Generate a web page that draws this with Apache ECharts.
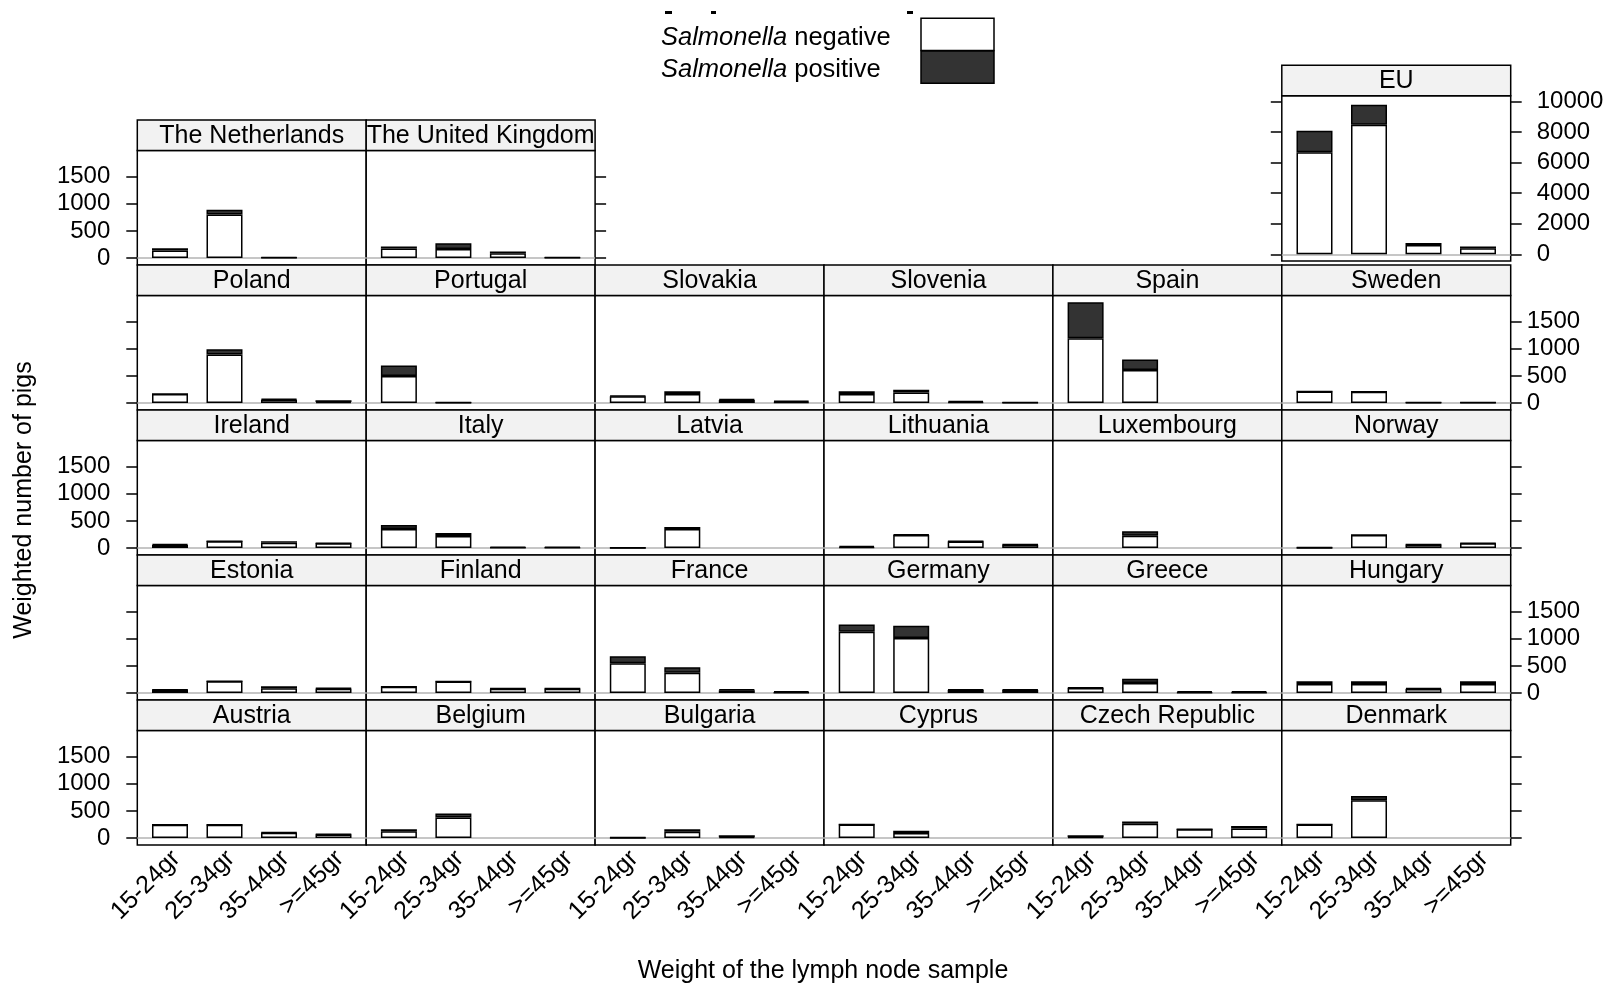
<!DOCTYPE html>
<html>
<head>
<meta charset="utf-8">
<title>Salmonella status by lymph node weight</title>
<script src="https://cdn.jsdelivr.net/npm/echarts@6/dist/echarts.min.js"></script>
<style>
  html, body { margin: 0; padding: 0; background: #fff; }
  #chart { width: 1612px; height: 987px; }
</style>
</head>
<body>
<div id="chart"></div>
<script>
// weight classes of the lymph node sample (x categories)
const weightClasses = ['15-24gr', '25-34gr', '35-44gr', '>=45gr']

// panels in lattice order: bottom-left first, row by row upwards
const countries = [
  'Austria', 'Belgium', 'Bulgaria', 'Cyprus', 'Czech Republic', 'Denmark',
  'Estonia', 'Finland', 'France', 'Germany', 'Greece', 'Hungary',
  'Ireland', 'Italy', 'Latvia', 'Lithuania', 'Luxembourg', 'Norway',
  'Poland', 'Portugal', 'Slovakia', 'Slovenia', 'Spain', 'Sweden',
  'The Netherlands', 'The United Kingdom'
]

// weighted number of Salmonella negative pigs (one row per country)
const negative = [
  [245, 245, 95, 65],      // Austria
  [122, 378, null, null],  // Belgium
  [3, 116, 15, null],      // Bulgaria
  [250, 92, null, null],   // Cyprus
  [15, 262, 160, 177],     // Czech Republic
  [250, 695, null, null],  // Denmark
  [55, 215, 85, 80],       // Estonia
  [115, 210, 80, 80],      // Finland
  [549, 372, 50, 10],      // France
  [1129, 1013, 55, 55],    // Germany
  [90, 183, 10, 10],       // Greece
  [165, 165, 75, 165],     // Hungary
  [55, 125, 95, 85],       // Ireland
  [348, 220, 5, 5],        // Italy
  [3, 348, null, null],    // Latvia
  [15, 240, 120, 60],      // Lithuania
  [null, 226, null, null], // Luxembourg
  [3, 240, 60, 85],        // Norway
  [165, 895, 60, 20],      // Poland
  [500, 5, null, null],    // Portugal
  [125, 165, 55, 20],      // Slovakia
  [165, 195, 15, 5],       // Slovenia
  [1196, 610, null, null], // Spain
  [210, 205, 8, 6],        // Sweden
  [140, 805, 5, null],     // The Netherlands
  [175, 165, 85, 5]        // The United Kingdom
]

// weighted number of Salmonella positive pigs
const positive = [
  [0, 0, 8, 8],            // Austria
  [37, 75, null, null],    // Belgium
  [7, 43, 35, null],       // Bulgaria
  [0, 42, null, null],     // Cyprus
  [35, 43, 0, 43],         // Czech Republic
  [0, 80, null, null],     // Denmark
  [5, 0, 37, 10],          // Estonia
  [0, 0, 5, 5],            // Finland
  [130, 105, 15, 25],      // France
  [135, 230, 10, 10],      // Germany
  [8, 80, 25, 25],         // Greece
  [50, 50, 15, 50],        // Hungary
  [15, 0, 30, 5],          // Ireland
  [75, 55, 15, 15],        // Italy
  [5, 40, null, null],     // Latvia
  [25, 10, 8, 7],          // Lithuania
  [null, 85, null, null],  // Luxembourg
  [7, 0, 5, 7],            // Norway
  [0, 95, 15, 30],         // Poland
  [190, 5, null, null],    // Portugal
  [10, 50, 15, 25],        // Slovakia
  [50, 50, 25, 5],         // Slovenia
  [665, 195, null, null],  // Spain
  [0, 0, 4, 4],            // Sweden
  [40, 85, 10, null],      // The Netherlands
  [35, 105, 35, 10]        // The United Kingdom
]

// EU total panel
const euNegative = [6690, 8480, 610, 395]
const euPositive = [1400, 1310, 130, 110]

const countTicks = [0, 500, 1000, 1500]
const euTicks = [0, 2000, 4000, 6000, 8000, 10000]

const FONT = 'Liberation Sans'
const PANEL_W = 228.9
const LEFT0 = 137.3
const TOP0 = 120
const ROW_H = 145
const STRIP_H = 30.5
const NEG_COLOR = '#fff'
const POS_COLOR = '#333333'

const grids = []
const xAxes = []
const yAxes = []
const series = []
const graphics = []

function yAxisOpt(gridIndex, min, max, ticks, position, showTick, showLabel, margin) {
  return {
    gridIndex: gridIndex,
    type: 'value',
    position: position,
    min: min,
    max: max,
    axisLine: { show: false },
    splitLine: { show: false },
    axisTick: {
      show: showTick,
      length: 11,
      customValues: ticks,
      lineStyle: { color: '#000', width: 1.5 }
    },
    axisLabel: {
      show: showLabel,
      customValues: ticks,
      formatter: function (v) { return String(v) },
      margin: margin,
      padding: [7, 0, 0, 0],   // R draws the numbers a little below the tick
      fontSize: 24,
      color: '#000',
      fontFamily: FONT
    }
  }
}

function addPanel(name, neg, pos, box, axes) {
  const k = grids.length
  grids.push({
    left: box.left, top: box.top, width: box.width, height: box.height,
    show: true, borderColor: '#000', borderWidth: 1.5, backgroundColor: '#fff',
    containLabel: false, outerBoundsMode: 'none'
  })
  xAxes.push({
    gridIndex: k,
    type: 'value',
    min: 0.4,
    max: 4.6,
    axisLine: { show: false },
    axisTick: { show: false },
    splitLine: { show: false },
    axisLabel: axes.bottom ? {
      show: true,
      customValues: [1, 2, 3, 4],
      formatter: function (v) { return weightClasses[Math.round(v) - 1] },
      rotate: 45,
      margin: 16,
      padding: [0, -9, 0, 0],
      fontSize: 25,
      color: '#000',
      fontFamily: FONT
    } : { show: false }
  })
  const yIndex = yAxes.length
  yAxes.push(yAxisOpt(k, box.min, box.max, box.ticks, 'left', axes.leftTick, axes.leftLabel, 27))
  if (axes.right) {
    yAxes.push(yAxisOpt(k, box.min, box.max, box.ticks, 'right', true, axes.rightLabel, box.rightMargin))
  }
  // value first, category position second, so the stack runs along y
  const base = {
    type: 'bar',
    xAxisIndex: k,
    yAxisIndex: yIndex,
    stack: 'panel' + k,
    encode: { x: 1, y: 0 },
    barWidth: 36,
    z: 3
  }
  series.push(Object.assign({}, base, {
    name: 'Salmonella negative',
    data: neg.map(function (v, j) { return [v, j + 1] }),
    itemStyle: { color: NEG_COLOR, borderColor: '#000', borderWidth: 1.5 },
    markLine: {
      silent: true,
      symbol: 'none',
      z: 1,
      animation: false,
      label: { show: false },
      lineStyle: { color: '#b3b3b3', width: 1.5, type: 'solid' },
      data: [{ yAxis: 0 }]
    }
  }))
  series.push(Object.assign({}, base, {
    name: 'Salmonella positive',
    data: pos.map(function (v, j) { return [v, j + 1] }),
    itemStyle: { color: POS_COLOR, borderColor: '#000', borderWidth: 1.5 }
  }))
  // strip with the panel name
  graphics.push({
    type: 'rect',
    shape: { x: box.left, y: box.top - STRIP_H, width: box.width, height: STRIP_H },
    style: { fill: '#f2f2f2', stroke: '#000', lineWidth: 1.5 },
    z: 10
  })
  graphics.push({
    type: 'text',
    x: box.left + box.width / 2,
    y: box.top - STRIP_H / 2 + 1,
    style: {
      text: name, fill: '#000', font: '25px "' + FONT + '"',
      textAlign: 'center', textVerticalAlign: 'middle'
    },
    z: 11
  })
}

countries.forEach(function (name, i) {
  const lrow = Math.floor(i / 6)    // lattice row, 0 = bottom
  const col = i % 6
  const srow = 4 - lrow             // screen row, 0 = top
  const lastInRow = (lrow === 4) ? col === 1 : col === 5
  addPanel(name, negative[i], positive[i], {
    left: LEFT0 + col * PANEL_W,
    top: TOP0 + srow * ROW_H + STRIP_H,
    width: PANEL_W,
    height: ROW_H - STRIP_H,
    min: -130,
    max: 1985,
    ticks: countTicks,
    rightMargin: 16
  }, {
    bottom: srow === 4,
    leftTick: col === 0,
    leftLabel: col === 0 && srow % 2 === 0,
    right: lastInRow,
    rightLabel: srow % 2 === 1
  })
})

addPanel('EU', euNegative, euPositive, {
  left: LEFT0 + 5 * PANEL_W,
  top: 95.7,
  width: PANEL_W,
  height: 165.3,
  min: -440,
  max: 10390,
  ticks: euTicks,
  rightMargin: 26
}, {
  bottom: false,
  leftTick: true,
  leftLabel: false,
  right: true,
  rightLabel: true
})

// axis titles
graphics.push({
  type: 'text',
  x: 823,
  y: 971,
  style: {
    text: 'Weight of the lymph node sample', fill: '#000', font: '25px "' + FONT + '"',
    textAlign: 'center', textVerticalAlign: 'middle'
  }
})
graphics.push({
  type: 'text',
  x: 24,
  y: 500,
  rotation: Math.PI / 2,
  style: {
    text: 'Weighted number of pigs', fill: '#000', font: '25px "' + FONT + '"',
    textAlign: 'center', textVerticalAlign: 'middle'
  }
})

// key: text on the left, stacked boxes on the right
;[['negative', NEG_COLOR, 18.3, 38], ['positive', POS_COLOR, 51, 70]].forEach(function (d) {
  graphics.push({
    type: 'rect',
    shape: { x: 921, y: d[2], width: 73, height: 32.2 },
    style: { fill: d[1], stroke: '#000', lineWidth: 1.5 }
  })
  graphics.push({
    type: 'text',
    x: 661,
    y: d[3],
    style: {
      text: '{i|Salmonella} ' + d[0],
      fill: '#000',
      font: '25.5px "' + FONT + '"',
      textAlign: 'left',
      textVerticalAlign: 'middle',
      rich: { i: { fontStyle: 'italic', fontSize: 25.5, fontFamily: FONT, fill: '#000' } }
    }
  })
})

// leftovers of a cropped line above the key
;[[665, 7], [711, 5], [907, 6]].forEach(function (d) {
  graphics.push({
    type: 'rect',
    shape: { x: d[0], y: 11, width: d[1], height: 3 },
    style: { fill: '#000' }
  })
})

const chart = echarts.init(document.getElementById('chart'))
chart.setOption({
  animation: false,
  backgroundColor: '#fff',
  textStyle: { fontFamily: FONT },
  grid: grids,
  xAxis: xAxes,
  yAxis: yAxes,
  series: series,
  graphic: graphics
})
</script>
</body>
</html>
